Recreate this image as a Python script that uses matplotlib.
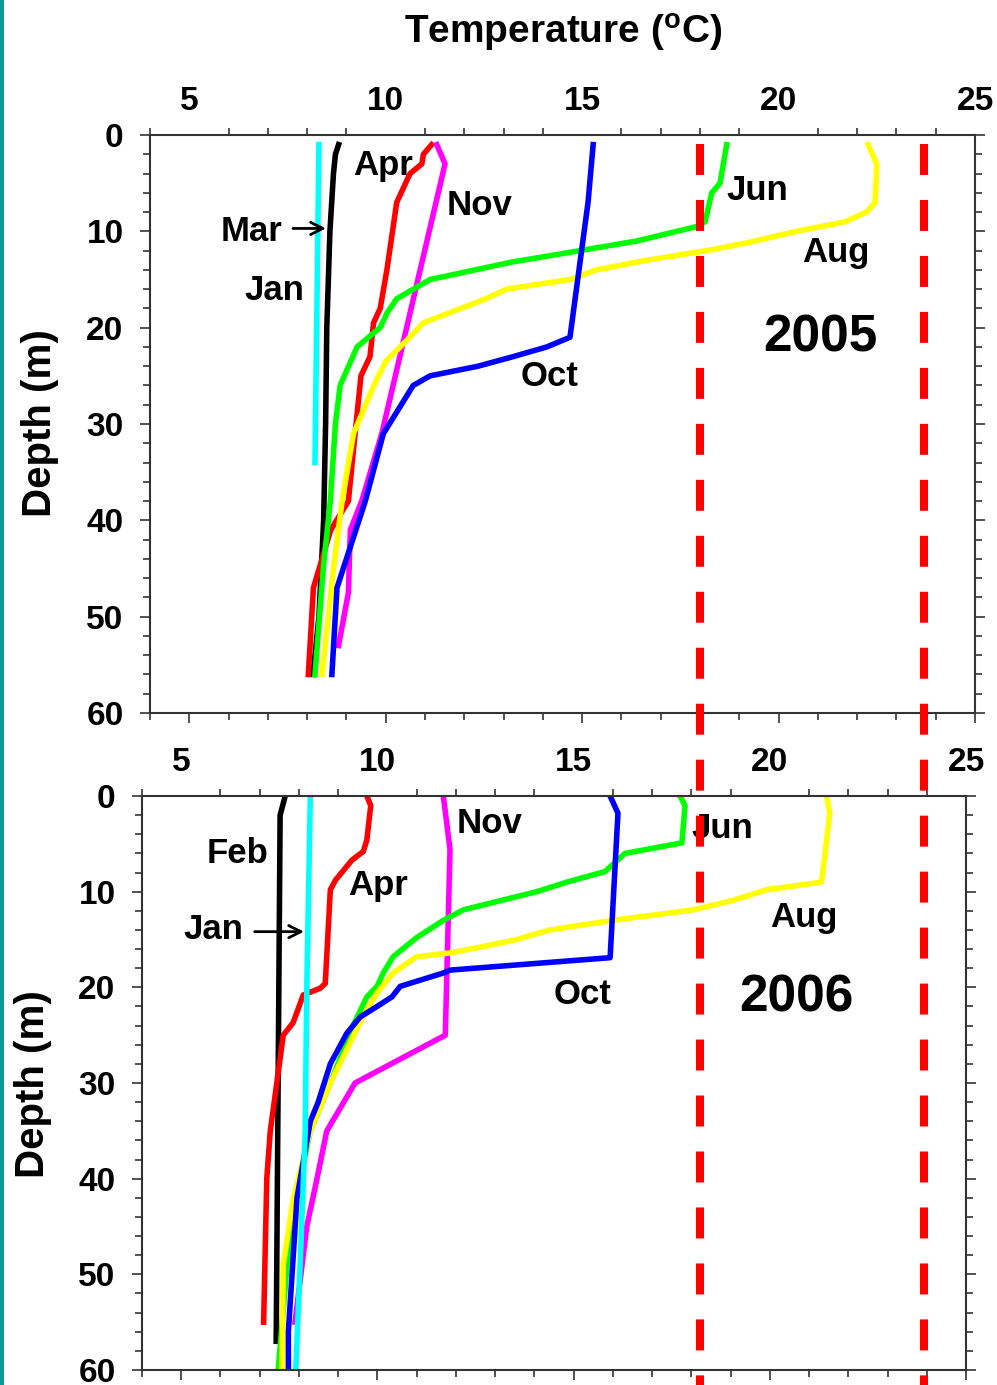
import numpy as np
import matplotlib
matplotlib.use("Agg")
import matplotlib.pyplot as plt
from matplotlib.lines import Line2D
from matplotlib.patches import Rectangle
from matplotlib.ticker import MultipleLocator

plt.rcParams['font.family'] = ['Liberation Sans', 'DejaVu Sans']
plt.rcParams['font.weight'] = 'bold'
plt.rcParams['mathtext.fontset'] = 'custom'
plt.rcParams['mathtext.bf'] = 'Liberation Sans:bold'
plt.rcParams['mathtext.rm'] = 'Liberation Sans:bold'
plt.rcParams['mathtext.default'] = 'bf'

# ---- 2005 profiles (depth m, temperature C) ----
jan05_d = [1, 34]
jan05_t = [8.3, 8.2]
mar05_d = [1, 2, 4, 10, 20, 30, 40, 50, 56]
mar05_t = [8.8, 8.72, 8.67, 8.58, 8.5, 8.47, 8.42, 8.3, 8.15]
apr05_d = [1, 2, 3, 4, 7, 14, 18, 19.5, 23, 25, 31, 38, 41, 47, 56]
apr05_t = [11.17, 10.96, 10.92, 10.62, 10.28, 10.03, 9.86, 9.69, 9.6, 9.37, 9.22, 9.05, 8.6, 8.16, 8.03]
jun05_d = [1, 5, 6, 9, 9.5, 11, 12, 13.2, 15, 17, 18.5, 20, 22, 26, 30, 38, 45, 56]
jun05_t = [18.68, 18.51, 18.3, 18.13, 17.92, 16.39, 14.95, 13.2, 11.13, 10.28, 10.03, 9.86, 9.27, 8.84, 8.72, 8.59, 8.41, 8.2]
aug05_d = [1, 3, 7, 8, 9, 10, 11.2, 12, 13, 14, 15, 16, 17, 19.5, 21.3, 23.5, 26, 31, 38, 45, 56]
aug05_t = [22.28, 22.5, 22.46, 22.24, 21.7, 20.46, 19.19, 18.17, 16.65, 15.37, 14.69, 13.08, 12.55, 10.96, 10.54, 10.0, 9.7, 9.18, 8.89, 8.67, 8.38]
oct05_d = [1, 7, 21, 22, 23, 24, 25, 26, 31, 38, 47, 56]
oct05_t = [15.28, 15.15, 14.69, 14.1, 13.25, 12.35, 11.13, 10.7, 9.94, 9.48, 8.76, 8.63]
nov05_d = [1, 3, 31, 38, 41, 47.5, 53]
nov05_t = [11.3, 11.51, 9.9, 9.39, 9.1, 9.05, 8.8]

# ---- 2006 profiles ----
jan06_d = [0, 20, 35, 49, 60]
jan06_t = [8.29, 8.2, 8.16, 8.03, 7.92]
feb06_d = [0, 2, 57]
feb06_t = [7.65, 7.52, 7.42]
apr06_d = [0, 1, 4.6, 5.8, 6.7, 8.8, 9.8, 19.6, 20.1, 20.8, 23.7, 25, 35, 40, 55]
apr06_t = [9.73, 9.83, 9.73, 9.64, 9.35, 8.93, 8.8, 8.67, 8.54, 8.11, 7.85, 7.6, 7.27, 7.18, 7.1]
jun06_d = [0, 1, 4.9, 6, 7.9, 9, 10, 11.9, 13, 14.8, 16.8, 18.5, 19.9, 21, 24, 30, 35, 45, 60]
jun06_t = [17.71, 17.84, 17.76, 16.31, 15.8, 14.83, 14.06, 12.19, 11.68, 11.0, 10.4, 10.15, 9.99, 9.73, 9.38, 8.8, 8.29, 7.78, 7.47]
aug06_d = [0, 1.8, 9, 9.8, 10.9, 11.9, 13, 14, 15, 15.8, 16.4, 16.8, 18.5, 20.6, 23, 30, 35, 42, 49, 60]
aug06_t = [21.45, 21.53, 21.32, 19.92, 19.07, 18.05, 16.0, 14.4, 13.55, 12.62, 11.85, 11.0, 10.4, 9.99, 9.64, 8.8, 8.29, 7.86, 7.6, 7.57]
oct06_d = [0, 1.8, 16.9, 18.2, 18.5, 19.9, 21, 22, 23.1, 24.8, 28, 32, 34, 42, 56, 60]
oct06_t = [15.93, 16.13, 15.93, 11.85, 11.68, 10.58, 10.37, 9.99, 9.56, 9.22, 8.8, 8.49, 8.29, 7.95, 7.73, 7.73]
nov06_d = [0, 5.6, 25, 30, 35, 40, 45, 55]
nov06_t = [11.68, 11.85, 11.73, 9.43, 8.71, 8.46, 8.2, 7.9]

# reference temperatures (red dashed lines)
ref_temps = [18.0, 23.7]

x_ticks = [5, 10, 15, 20, 25]
y_ticks = [0, 10, 20, 30, 40, 50, 60]

W, H = 997, 1385
fig = plt.figure(figsize=(W / 100, H / 100), dpi=100)

ax1 = fig.add_axes([150 / W, 1 - 713 / H, 825 / W, 578 / H])
ax2 = fig.add_axes([142 / W, 1 - 1370 / H, 824 / W, 574 / H])

lw = 4.0
for ax in (ax1, ax2):
    ax.set_xlim(4, 25)
    ax.set_ylim(60, 0)
    ax.set_xticks(x_ticks)
    ax.set_yticks(y_ticks)
    ax.xaxis.set_minor_locator(MultipleLocator(1))
    ax.yaxis.set_minor_locator(MultipleLocator(2))
    ax.tick_params(axis='x', which='both', top=True, bottom=True,
                   labeltop=True, labelbottom=False, direction='out')
    ax.tick_params(axis='y', which='both', left=True, right=True, direction='out')
    ax.tick_params(which='major', length=7, width=1.2, labelsize=24, color='#333333')
    ax.tick_params(which='minor', length=5, width=1.2, color='#333333')
    ax.tick_params(axis='x', which='major', pad=6)
    ax.tick_params(axis='y', which='major', pad=12)
    for tick in ax.xaxis.get_major_ticks():
        tick.tick2line.set_visible(False)
    for sp in ax.spines.values():
        sp.set_linewidth(1.5)
        sp.set_color('#333333')
    ax.patch.set_alpha(0)

# 2005
ax1.plot(mar05_t, mar05_d, color='black', lw=lw)
ax1.plot(apr05_t, apr05_d, color='#FF0000', lw=lw)
ax1.plot(nov05_t, nov05_d, color='#FF00FF', lw=lw)
ax1.plot(jun05_t, jun05_d, color='#00FF00', lw=lw)
ax1.plot(aug05_t, aug05_d, color='#FFFF00', lw=lw)
ax1.plot(oct05_t, oct05_d, color='#0000FF', lw=lw)
ax1.plot(jan05_t, jan05_d, color='#00FFFF', lw=lw)

# 2006
ax2.plot(feb06_t, feb06_d, color='black', lw=lw)
ax2.plot(apr06_t, apr06_d, color='#FF0000', lw=lw)
ax2.plot(nov06_t, nov06_d, color='#FF00FF', lw=lw)
ax2.plot(jun06_t, jun06_d, color='#00FF00', lw=lw)
ax2.plot(aug06_t, aug06_d, color='#FFFF00', lw=lw)
ax2.plot(oct06_t, oct06_d, color='#0000FF', lw=lw)
ax2.plot(jan06_t, jan06_d, color='#00FFFF', lw=lw)

fs = 25
lab = dict(fontsize=fs, fontweight='bold', ha='left', va='baseline')
ax1.text(9.17, 4.15, 'Apr', **lab)
ax1.text(11.56, 8.3, 'Nov', **lab)
ax1.text(5.79, 10.97, 'Mar', **lab)
ax1.text(6.40, 17.1, 'Jan', **lab)
ax1.text(18.68, 6.75, 'Jun', **lab)
ax1.text(20.61, 13.15, 'Aug', **lab)
ax1.text(13.44, 26.1, 'Oct', **lab)
ax1.text(19.6, 22.5, '2005', fontsize=37, fontweight='bold', ha='left', va='baseline')
ax1.annotate('', xy=(8.55, 9.7), xytext=(7.57, 9.7),
             arrowprops=dict(arrowstyle='->', color='black', lw=2, mutation_scale=22))

ax2.text(5.64, 6.97, 'Feb', **lab)
ax2.text(9.26, 10.35, 'Apr', **lab)
ax2.text(5.06, 14.97, 'Jan', **lab)
ax2.text(12.02, 3.83, 'Nov', **lab)
ax2.text(17.99, 4.42, 'Jun', **lab)
ax2.text(20.0, 13.65, 'Aug', **lab)
ax2.text(14.49, 21.7, 'Oct', **lab)
ax2.text(19.22, 22.5, '2006', fontsize=37, fontweight='bold', ha='left', va='baseline')
ax2.annotate('', xy=(8.2, 14.18), xytext=(6.8, 14.18),
             arrowprops=dict(arrowstyle='->', color='black', lw=2, mutation_scale=22))

fig.text(563 / W, 1 - 33 / H, r'Temperature ($^{o}$C)', fontsize=28,
         fontweight='bold', ha='center', va='center')
fig.text(40 / W, 1 - 423 / H, 'Depth (m)', fontsize=29, fontweight='bold',
         rotation=90, ha='center', va='center')
fig.text(33 / W, 1 - 1084 / H, 'Depth (m)', fontsize=29, fontweight='bold',
         rotation=90, ha='center', va='center')

# dashed reference lines across both panels
dash_lw = 5.8
for t in ref_temps:
    x_px, y_px = ax1.transData.transform((t, 0.9))
    fig.add_artist(Line2D([x_px / W, x_px / W], [y_px / H, 0], transform=fig.transFigure,
                          color='#FF0000', lw=dash_lw,
                          linestyle=(0, (22.3 / dash_lw, 18.0 / dash_lw)),
                          solid_capstyle='butt', dash_capstyle='butt'))

# teal stripe at the left edge
fig.add_artist(Rectangle((0, 0), 4 / W, 1, transform=fig.transFigure,
                         color='#109a96', lw=0))

fig.savefig('out.png', dpi=100)
